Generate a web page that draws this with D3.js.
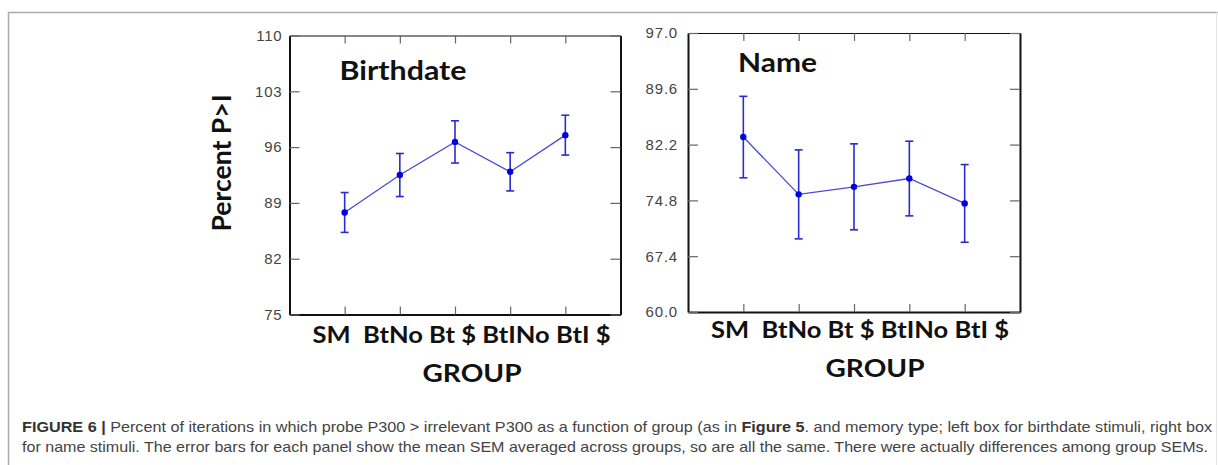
<!DOCTYPE html>
<html>
<head>
<meta charset="utf-8">
<script src="https://cdn.jsdelivr.net/npm/d3@7"></script>
<style>
  body { margin: 0; background: #fff; }
  svg { display: block; }
  .tick text { font-family: "Liberation Sans", Arial, sans-serif; font-size: 15px; fill: #444; letter-spacing: 0.8px; }
  .big { font-family: Lato, "Open Sans", sans-serif; font-weight: bold; fill: #111; }
</style>
</head>
<body>
<div id="chart"></div>
<script>
// data
var groups = ["SM", "BtNo", "Bt $", "BtINo", "BtI $"];

var birthdateMean = [87.8, 92.5, 96.65, 92.9, 97.5];
var birthdateSem  = [2.5, 2.7, 2.65, 2.4, 2.5];
var birthdateTicks = [75, 82, 89, 96, 103, 110];

var nameMean = [83.2, 75.6, 76.6, 77.7, 74.4];
var nameSem  = [5.4, 5.9, 5.7, 4.95, 5.15];
var nameTicks = [60.0, 67.4, 74.8, 82.2, 89.6, 97.0];

var W = 1218, H = 465;

var svg = d3.select("#chart").append("svg")
  .attr("width", W)
  .attr("height", H);

// outer figure frame
svg.append("path")
  .attr("d", "M8.5,465V12.5H1218")
  .attr("fill", "none")
  .attr("stroke", "#aaa")
  .attr("stroke-width", 1.5);
svg.append("line")
  .attr("x1", 1216.5).attr("x2", 1216.5).attr("y1", 12).attr("y2", 465)
  .attr("stroke", "#e4e4e4");

function panel(opts) {
  var x0 = opts.left, x1 = opts.right, y0 = opts.top, y1 = opts.bottom;

  var x = d3.scaleLinear().domain([0, groups.length + 1]).range([x0, x1]);
  var y = d3.scaleLinear().domain(d3.extent(opts.ticks)).range([y1, y0]);

  var g = svg.append("g");

  // frame axes, ticks point inward
  var top = g.append("g")
    .attr("transform", "translate(0," + y0 + ")")
    .call(d3.axisTop(x).tickValues(d3.range(1, groups.length + 1)).tickSizeInner(-8).tickSizeOuter(0).tickFormat(""));
  var bottom = g.append("g")
    .attr("transform", "translate(0," + y1 + ")")
    .call(d3.axisBottom(x).tickValues(d3.range(1, groups.length + 1)).tickSizeInner(-8).tickSizeOuter(0).tickFormat(""));
  var right = g.append("g")
    .attr("transform", "translate(" + x1 + ",0)")
    .call(d3.axisRight(y).tickValues(opts.ticks).tickSizeInner(-10).tickSizeOuter(0).tickFormat(""));
  var left = g.append("g")
    .attr("transform", "translate(" + x0 + ",0)")
    .call(d3.axisLeft(y).tickValues(opts.ticks).tickSizeInner(-10).tickSizeOuter(0)
      .tickPadding(opts.pad).tickFormat(d3.format(opts.fmt)));

  [top, bottom, right, left].forEach(function(a) {
    a.selectAll(".tick line").attr("stroke", "#666").attr("stroke-width", 1.2);
    a.select(".domain").attr("stroke", "#111");
  });
  top.select(".domain").attr("stroke-width", 1.2);
  bottom.select(".domain").attr("stroke-width", 2);
  left.select(".domain").attr("stroke-width", 2);
  right.select(".domain").attr("stroke-width", 2);

  // connecting line
  g.append("path")
    .datum(opts.mean)
    .attr("fill", "none")
    .attr("stroke", "#4a4ad8")
    .attr("stroke-width", 1.3)
    .attr("d", d3.line()
      .x(function(d, i) { return x(i + 1); })
      .y(function(d) { return y(d); }));

  // error bars
  var eb = g.selectAll(".eb").data(opts.mean).enter().append("g").attr("class", "eb");
  eb.append("line")
    .attr("x1", function(d, i) { return x(i + 1); })
    .attr("x2", function(d, i) { return x(i + 1); })
    .attr("y1", function(d, i) { return y(d + opts.sem[i]); })
    .attr("y2", function(d, i) { return y(d - opts.sem[i]); });
  eb.append("line")
    .attr("x1", function(d, i) { return x(i + 1) - 4; })
    .attr("x2", function(d, i) { return x(i + 1) + 4; })
    .attr("y1", function(d, i) { return y(d + opts.sem[i]); })
    .attr("y2", function(d, i) { return y(d + opts.sem[i]); });
  eb.append("line")
    .attr("x1", function(d, i) { return x(i + 1) - 4; })
    .attr("x2", function(d, i) { return x(i + 1) + 4; })
    .attr("y1", function(d, i) { return y(d - opts.sem[i]); })
    .attr("y2", function(d, i) { return y(d - opts.sem[i]); });
  eb.selectAll("line").attr("stroke", "#2b2bd0").attr("stroke-width", 1.6);

  // points
  g.selectAll(".dot").data(opts.mean).enter().append("circle")
    .attr("class", "dot")
    .attr("cx", function(d, i) { return x(i + 1); })
    .attr("cy", function(d) { return y(d); })
    .attr("r", 3.2)
    .attr("fill", "#0000e0");

  // panel title
  g.append("text")
    .attr("class", "big")
    .attr("x", x0 + 50)
    .attr("y", y0 + opts.titleDy)
    .attr("textLength", opts.titleLen)
    .attr("lengthAdjust", "spacingAndGlyphs")
    .style("font-size", "26px")
    .text(opts.title);

  // group labels, typed as one line under the axis
  g.append("text")
    .attr("class", "big")
    .attr("x", x0 + 23)
    .attr("y", y1 + opts.labDy)
    .attr("textLength", 298)
    .attr("lengthAdjust", "spacingAndGlyphs")
    .style("font-size", "22px")
    .style("white-space", "pre")
    .text(groups[0] + "  " + groups.slice(1).join(" "));

  g.append("text")
    .attr("class", "big")
    .attr("x", (x0 + x1) / 2 + opts.groupDx)
    .attr("y", y1 + opts.groupDy)
    .attr("text-anchor", "middle")
    .attr("textLength", 99)
    .attr("lengthAdjust", "spacingAndGlyphs")
    .style("font-size", "25px")
    .text("GROUP");
}

panel({ left: 289.5, right: 620.5, top: 35.5, bottom: 314.5,
        mean: birthdateMean, sem: birthdateSem, ticks: birthdateTicks,
        fmt: "d", pad: 7, title: "Birthdate", titleLen: 127, titleDy: 44.5,
        labDy: 28.5, groupDx: 17, groupDy: 67.5 });

panel({ left: 688, right: 1020, top: 33, bottom: 312,
        mean: nameMean, sem: nameSem, ticks: nameTicks,
        fmt: ".1f", pad: 10, title: "Name", titleLen: 79, titleDy: 39,
        labDy: 26, groupDx: 21, groupDy: 65 });

// y axis title
svg.append("text")
  .attr("class", "big")
  .attr("transform", "translate(231,163) rotate(-90)")
  .attr("text-anchor", "middle")
  .attr("textLength", 137)
  .attr("lengthAdjust", "spacingAndGlyphs")
  .style("font-size", "27px")
  .text("Percent P>I");

// caption
var cap = svg.append("g")
  .style("font-family", "\"Liberation Sans\", Arial, sans-serif")
  .style("font-size", "14.5px")
  .style("fill", "#444");

var l1 = cap.append("text").attr("x", 22).attr("y", 432)
  .attr("textLength", 1190).attr("lengthAdjust", "spacingAndGlyphs");
l1.append("tspan").style("font-weight", "bold").style("fill", "#333").text("FIGURE 6 |");
l1.append("tspan").text(" Percent of iterations in which probe P300 > irrelevant P300 as a function of group (as in ");
l1.append("tspan").style("font-weight", "bold").style("fill", "#333").text("Figure 5");
l1.append("tspan").text(". and memory type; left box for birthdate stimuli, right box");

cap.append("text").attr("x", 22).attr("y", 452)
  .attr("textLength", 1186).attr("lengthAdjust", "spacingAndGlyphs")
  .text("for name stimuli. The error bars for each panel show the mean SEM averaged across groups, so are all the same. There were actually differences among group SEMs.");
</script>
</body>
</html>
